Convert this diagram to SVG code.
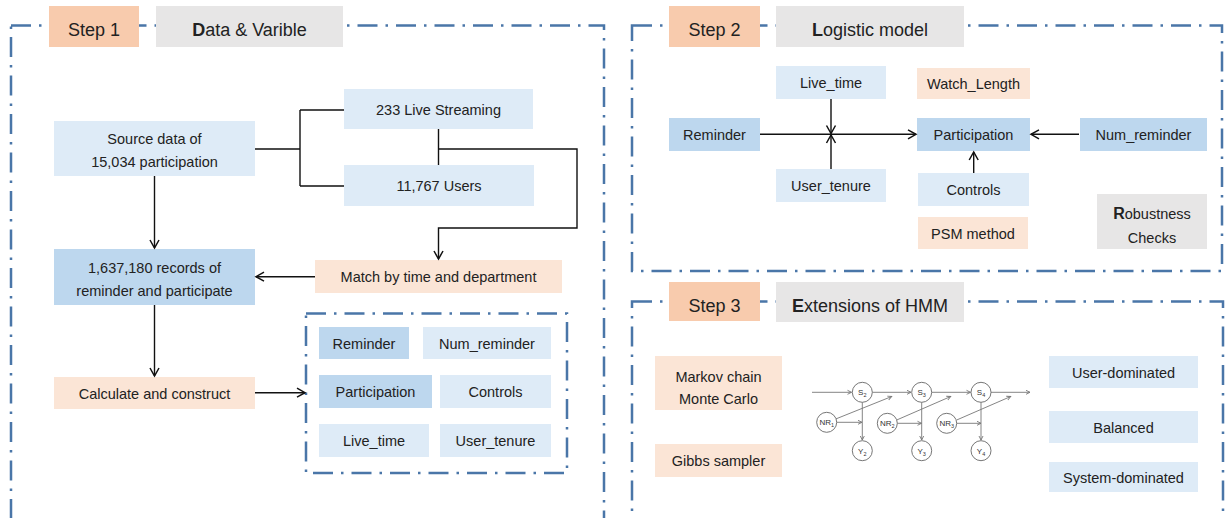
<svg xmlns="http://www.w3.org/2000/svg" width="1225" height="518" viewBox="0 0 1225 518">
<defs>
<style>
text{font-family:"Liberation Sans",Arial,sans-serif;fill:#222;text-anchor:middle}
.t{font-size:14.5px}
.h{font-size:18px}
.s{font-size:8px;fill:#333}
.step{fill:#F8CBAD}
.title{fill:#E7E6E6}
.lb{fill:#DEEBF7}
.mb{fill:#BDD7EE}
.pe{fill:#FBE5D6}
.panel{fill:none;stroke:#4A76A8;stroke-width:2.5;stroke-dasharray:20 8 2.5 8}
.c{fill:none;stroke:#111;stroke-width:1.4}
.g{fill:none;stroke:#777;stroke-width:0.9}
.n{fill:#fff;stroke:#666;stroke-width:0.9}
</style>
<marker id="a" markerUnits="userSpaceOnUse" markerWidth="12" markerHeight="12" refX="10" refY="6" orient="auto">
<path d="M2,1.5 L10,6 L2,10.5" fill="none" stroke="#111" stroke-width="1.5"/>
</marker>
<marker id="sa" markerUnits="userSpaceOnUse" markerWidth="6" markerHeight="6" refX="5" refY="3" orient="auto">
<path d="M1,1 L5,3 L1,5" fill="none" stroke="#777" stroke-width="0.9"/>
</marker>
</defs>
<rect width="1225" height="518" fill="#fff"/>

<!-- panels -->
<g id="panels">
<rect class="panel" x="11" y="25.5" width="593" height="520"/>
<rect class="panel" x="632" y="25.5" width="590" height="245.5"/>
<rect class="panel" x="632" y="301.5" width="591" height="240"/>
<rect class="panel" x="306" y="313.5" width="261" height="159.5"/>
</g>

<!-- Step 1 -->
<g id="step1-label"><rect class="step" x="49" y="6" width="90" height="41"/><text class="h" x="94" y="35.5">Step 1</text></g>
<g id="step1-title"><rect class="title" x="156" y="6" width="187" height="41"/><text class="h" x="249.5" y="35.5"><tspan font-weight="bold">D</tspan>ata &amp; Varible</text></g>
<g id="source"><rect class="lb" x="54" y="121" width="201" height="55"/><text class="t" x="154.5" y="144">Source data of</text><text class="t" x="154.5" y="167">15,034 participation</text></g>
<g id="live-streaming"><rect class="lb" x="344" y="89" width="189" height="40"/><text class="t" x="438.5" y="115">233 Live Streaming</text></g>
<g id="users"><rect class="lb" x="344" y="165" width="190" height="41"/><text class="t" x="439" y="191">11,767 Users</text></g>
<g id="records"><rect class="mb" x="54" y="249" width="201" height="56"/><text class="t" x="154.5" y="272.5">1,637,180 records of</text><text class="t" x="154.5" y="295.5">reminder and participate</text></g>
<g id="match"><rect class="pe" x="315" y="260" width="247" height="33"/><text class="t" x="438.5" y="282">Match by time and department</text></g>
<g id="calc"><rect class="pe" x="54" y="377" width="201" height="32"/><text class="t" x="154.5" y="398.5">Calculate and construct</text></g>
<g id="v-reminder"><rect class="mb" x="319" y="327" width="90" height="32"/><text class="t" x="364" y="348.5">Reminder</text></g>
<g id="v-num-reminder"><rect class="lb" x="423" y="327" width="128" height="32"/><text class="t" x="487" y="348.5">Num_reminder</text></g>
<g id="v-participation"><rect class="mb" x="319" y="375" width="113" height="33"/><text class="t" x="375.5" y="397">Participation</text></g>
<g id="v-controls"><rect class="lb" x="440" y="375" width="111" height="33"/><text class="t" x="495.5" y="397">Controls</text></g>
<g id="v-live-time"><rect class="lb" x="319" y="424" width="110" height="33"/><text class="t" x="374" y="446">Live_time</text></g>
<g id="v-user-tenure"><rect class="lb" x="440" y="424" width="111" height="33"/><text class="t" x="495.5" y="446">User_tenure</text></g>

<!-- Step 2 -->
<g id="step2-label"><rect class="step" x="669" y="6" width="91" height="41"/><text class="h" x="714.5" y="35.5">Step 2</text></g>
<g id="step2-title"><rect class="title" x="776" y="6" width="188" height="41"/><text class="h" x="870" y="35.5"><tspan font-weight="bold">L</tspan>ogistic model</text></g>
<g id="s2-live-time"><rect class="lb" x="776" y="66" width="110" height="33"/><text class="t" x="831" y="88">Live_time</text></g>
<g id="s2-watch"><rect class="pe" x="917" y="68" width="113" height="31"/><text class="t" x="973.5" y="89">Watch_Length</text></g>
<g id="s2-reminder"><rect class="mb" x="669" y="118" width="91" height="33"/><text class="t" x="714.5" y="140">Reminder</text></g>
<g id="s2-participation"><rect class="mb" x="917" y="118" width="113" height="33"/><text class="t" x="973.5" y="140">Participation</text></g>
<g id="s2-num-reminder"><rect class="mb" x="1080" y="118" width="127" height="33"/><text class="t" x="1143.5" y="140">Num_reminder</text></g>
<g id="s2-user-tenure"><rect class="lb" x="776" y="169" width="110" height="33"/><text class="t" x="831" y="191">User_tenure</text></g>
<g id="s2-controls"><rect class="lb" x="918" y="173" width="111" height="33"/><text class="t" x="973.5" y="195">Controls</text></g>
<g id="s2-psm"><rect class="pe" x="918" y="217" width="110" height="32"/><text class="t" x="973" y="238.5">PSM method</text></g>
<g id="s2-robust"><rect class="title" x="1097" y="194" width="110" height="55"/><text class="t" x="1152" y="218.5"><tspan font-weight="bold" font-size="16">R</tspan>obustness</text><text class="t" x="1152" y="242.5">Checks</text></g>

<!-- Step 3 -->
<g id="step3-label"><rect class="step" x="669" y="282" width="91" height="39"/><text class="h" x="714.5" y="311.5">Step 3</text></g>
<g id="step3-title"><rect class="title" x="776" y="282" width="188" height="40"/><text class="h" x="870" y="312"><tspan font-weight="bold">E</tspan>xtensions of HMM</text></g>
<g id="s3-markov"><rect class="pe" x="655" y="356" width="127" height="54"/><text class="t" x="718.5" y="381.5">Markov chain</text><text class="t" x="718.5" y="404">Monte Carlo</text></g>
<g id="s3-gibbs"><rect class="pe" x="655" y="444" width="127" height="33"/><text class="t" x="718.5" y="466">Gibbs sampler</text></g>
<g id="s3-user-dom"><rect class="lb" x="1049" y="356" width="149" height="32"/><text class="t" x="1123.5" y="377.5">User-dominated</text></g>
<g id="s3-balanced"><rect class="lb" x="1049" y="411" width="149" height="32"/><text class="t" x="1123.5" y="432.5">Balanced</text></g>
<g id="s3-system-dom"><rect class="lb" x="1049" y="462" width="149" height="30"/><text class="t" x="1123.5" y="482.5">System-dominated</text></g>

<!-- HMM graph -->
<g id="hmm">
<g class="g">
<path d="M812,392.3 H851.5" marker-end="url(#sa)"/>
<path d="M872.3,392.3 H911" marker-end="url(#sa)"/>
<path d="M931.7,392.3 H970.5" marker-end="url(#sa)"/>
<path d="M991,392.3 H1030" marker-end="url(#sa)"/>
<path d="M862.3,402.3 V440" marker-end="url(#sa)"/>
<path d="M921.7,402.3 V440" marker-end="url(#sa)"/>
<path d="M981,402.3 V440" marker-end="url(#sa)"/>
<path d="M836.7,422.3 H862" marker-end="url(#sa)"/>
<path d="M897.3,423.3 H921.5" marker-end="url(#sa)"/>
<path d="M956.7,423.3 H981" marker-end="url(#sa)"/>
<path d="M835.7,419 L891.7,396.5" marker-end="url(#sa)"/>
<path d="M896.7,420 L950.7,396.5" marker-end="url(#sa)"/>
<path d="M956.7,420 L1010.7,396.5" marker-end="url(#sa)"/>
</g>
<g id="n-s2"><circle class="n" cx="862.3" cy="392.3" r="10"/><text class="s" x="862.3" y="395">S<tspan font-size="5.5" dy="2">2</tspan></text></g>
<g id="n-s3"><circle class="n" cx="921.7" cy="392.3" r="10"/><text class="s" x="921.7" y="395">S<tspan font-size="5.5" dy="2">3</tspan></text></g>
<g id="n-s4"><circle class="n" cx="981" cy="392.3" r="10"/><text class="s" x="981" y="395">S<tspan font-size="5.5" dy="2">4</tspan></text></g>
<g id="n-nr1"><circle class="n" cx="826.7" cy="422.3" r="10"/><text class="s" x="826.7" y="425">NR<tspan font-size="5.5" dy="2">1</tspan></text></g>
<g id="n-nr2"><circle class="n" cx="887.3" cy="423.3" r="10"/><text class="s" x="887.3" y="426">NR<tspan font-size="5.5" dy="2">2</tspan></text></g>
<g id="n-nr3"><circle class="n" cx="946.7" cy="423.3" r="10"/><text class="s" x="946.7" y="426">NR<tspan font-size="5.5" dy="2">3</tspan></text></g>
<g id="n-y2"><circle class="n" cx="862.3" cy="450.7" r="10"/><text class="s" x="862.3" y="453.5">Y<tspan font-size="5.5" dy="2">2</tspan></text></g>
<g id="n-y3"><circle class="n" cx="921.7" cy="450.7" r="10"/><text class="s" x="921.7" y="453.5">Y<tspan font-size="5.5" dy="2">3</tspan></text></g>
<g id="n-y4"><circle class="n" cx="981" cy="450.7" r="10"/><text class="s" x="981" y="453.5">Y<tspan font-size="5.5" dy="2">4</tspan></text></g>
</g>

<!-- connectors -->
<g id="connectors" class="c">
<path d="M255,149 H300 M300,110 V186 M300,110 H344 M300,186 H344"/>
<path d="M438.5,129 V165"/>
<path d="M438.5,149 H577 V228 H438.5 V259" marker-end="url(#a)"/>
<path d="M315,276.7 H256" marker-end="url(#a)"/>
<path d="M154.5,176 V248" marker-end="url(#a)"/>
<path d="M154.5,305 V376" marker-end="url(#a)"/>
<path d="M255,392.7 H305" marker-end="url(#a)"/>
<path d="M760,134.3 H916" marker-end="url(#a)"/>
<path d="M831,99 V133.5" marker-end="url(#a)"/>
<path d="M831,169 V135" marker-end="url(#a)"/>
<path d="M973.7,173 V152" marker-end="url(#a)"/>
<path d="M1079,134.3 H1031" marker-end="url(#a)"/>
</g>
</svg>
